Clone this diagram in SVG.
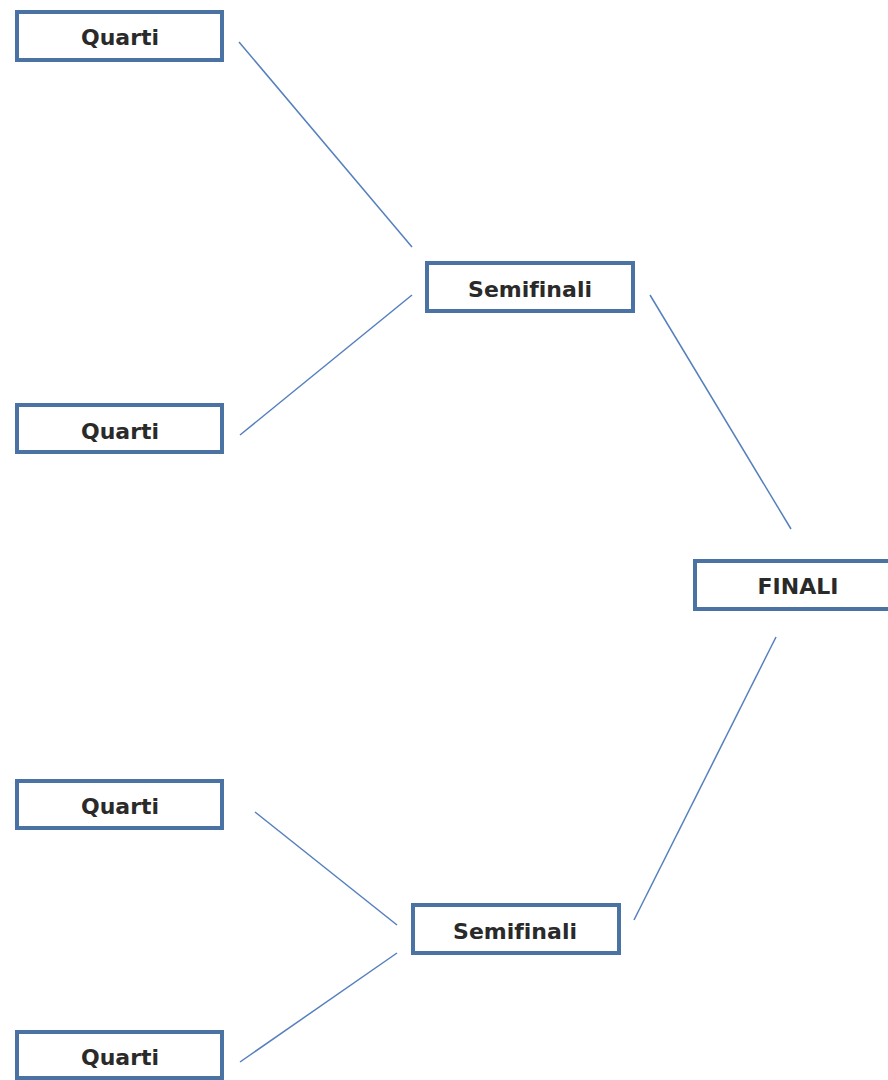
<svg xmlns="http://www.w3.org/2000/svg" width="888" height="1080" viewBox="0 0 888 1080">
<style>
.box{fill:#fff;stroke:#4a72a2;stroke-width:4}
.lbl{font-family:"DejaVu Sans",sans-serif;font-weight:bold;font-size:22px;fill:#2a2a2a;text-anchor:middle;font-variant-ligatures:none}
.con line{stroke:#5580bd;stroke-width:1.5}
</style>
<rect width="888" height="1080" fill="#fff"/>
<g class="con" id="connectors">
<line x1="239" y1="42" x2="412" y2="247"/>
<line x1="240" y1="435" x2="412" y2="295"/>
<line x1="650" y1="295" x2="791" y2="529"/>
<line x1="776" y1="637" x2="634" y2="920"/>
<line x1="255" y1="812" x2="397" y2="925"/>
<line x1="240" y1="1062" x2="397" y2="953"/>
</g>
<g id="q1"><rect class="box" x="17" y="12" width="205" height="48"/><text class="lbl" x="120" y="45">Quarti</text></g>
<g id="q2"><rect class="box" x="17" y="405" width="205" height="47"/><text class="lbl" x="120" y="439">Quarti</text></g>
<g id="s1"><rect class="box" x="427" y="263" width="206" height="48"/><text class="lbl" x="530" y="297">Semifinali</text></g>
<g id="f"><rect class="box" x="695" y="561" width="200" height="48"/><text class="lbl" x="798" y="594">FINALI</text></g>
<g id="q3"><rect class="box" x="17" y="781" width="205" height="47"/><text class="lbl" x="120" y="814">Quarti</text></g>
<g id="s2"><rect class="box" x="413" y="905" width="206" height="48"/><text class="lbl" x="515" y="939">Semifinali</text></g>
<g id="q4"><rect class="box" x="17" y="1032" width="205" height="46"/><text class="lbl" x="120" y="1065">Quarti</text></g>
</svg>
